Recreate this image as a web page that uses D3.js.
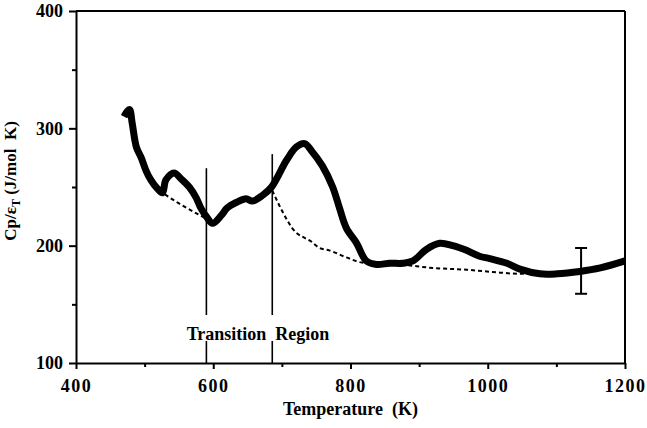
<!DOCTYPE html>
<html>
<head>
<meta charset="utf-8">
<script src="https://cdn.jsdelivr.net/npm/d3@7"></script>
<style>
body { margin: 0; background: #fff; }
svg text { font-family: "Liberation Serif", "Times New Roman", Times, "DejaVu Serif", serif !important; font-weight: bold; fill: #000; }
</style>
</head>
<body>
<div class="graph"></div>
<script>
// measured curve, Cp/eps_T vs T
const temps = [470, 474, 478, 482, 488, 495, 502, 509, 518, 526, 531, 543, 553, 565, 575, 582, 591, 599,
  612, 620, 634, 648, 657, 672, 685, 707, 721, 733, 743, 759, 774, 784, 794, 809, 823, 838, 857, 876,
  891, 911, 930, 949, 969, 988, 1003, 1028, 1047, 1076, 1101, 1134, 1164, 1200];
const cp = [310, 314, 316, 304, 284, 275, 264, 256, 249, 245, 256, 262, 257, 250, 241, 232, 224, 219,
  226, 232, 237, 240, 238, 243, 250, 273, 284, 287, 281, 268, 250, 232, 215, 202, 187, 184, 185, 185,
  187, 197, 202, 200, 196, 191, 189, 185, 180, 176, 176, 178, 181, 187];

// dotted baseline, two visible pieces
const baseTemps1 = [521, 550, 590, 600];
const baseCp1 = [247, 236, 223, 220];
const baseTemps2 = [686, 700, 715, 744, 755, 769, 794, 818, 872, 920, 969, 1018, 1047, 1080];
const baseCp2 = [247, 230, 215, 203, 198, 196, 190, 185.5, 184, 181, 179.5, 177, 176, 176];

// transition region markers
const transT = [590, 686];
const transTop = [266, 278];
const transLabel = "Transition\u00a0\u00a0Region";

// error bar
const errT = 1136;
const errLow = 159;
const errHigh = 198;

const xTicks = [400, 600, 800, 1000, 1200];
const xMinor = [500, 700, 900, 1100];
const yTicks = [100, 200, 300, 400];
const yMinor = [150, 250, 350];

var margin = {top: 11, right: 22, bottom: 65, left: 76},
  width = 647 - margin.left - margin.right,
  height = 428 - margin.top - margin.bottom;

var svg = d3.select(".graph")
  .append("svg")
    .attr("width", 647)
    .attr("height", 428)
  .append("g")
    .attr("transform", "translate(" + margin.left + "," + margin.top + ")");

var x = d3.scaleLinear().domain([400, 1200]).range([0, width]);
var y = d3.scaleLinear().domain([100, 400]).range([height, 0]);

// minor ticks
svg.append("g")
  .attr("transform", "translate(0," + height + ")")
  .call(d3.axisBottom(x).tickValues(xMinor).tickSize(4).tickFormat(""))
  .call(g => g.select(".domain").remove())
  .selectAll("line").attr("stroke-width", 2);
svg.append("g")
  .call(d3.axisLeft(y).tickValues(yMinor).tickSize(4).tickFormat(""))
  .call(g => g.select(".domain").remove())
  .selectAll("line").attr("stroke-width", 2);

// x axis
var xg = svg.append("g")
  .attr("transform", "translate(0," + height + ")")
  .call(d3.axisBottom(x).tickValues(xTicks).tickSize(6).tickSizeOuter(0).tickFormat(d3.format("d")));
xg.select(".domain").attr("stroke-width", 2);
xg.selectAll("line").attr("stroke-width", 2);
xg.selectAll("text")
  .attr("y", 16).attr("dy", "0.71em")
  .style("font-size", "18px")
  .style("letter-spacing", "1.5px");

// y axis
var yg = svg.append("g")
  .call(d3.axisLeft(y).tickValues(yTicks).tickSize(7).tickPadding(6).tickSizeOuter(0));
yg.select(".domain").attr("stroke-width", 2);
yg.selectAll("line").attr("stroke-width", 2);
yg.selectAll("text")
  .style("font-size", "18px");

// frame top and right
svg.append("line").attr("x1", 0).attr("x2", width).attr("y1", 0).attr("y2", 0)
  .attr("stroke", "#000").attr("stroke-width", 2);
svg.append("line").attr("x1", width).attr("x2", width).attr("y1", 0).attr("y2", height)
  .attr("stroke", "#000").attr("stroke-width", 2);

// axis titles
svg.append("text")
  .attr("x", width / 2).attr("y", 415 - margin.top)
  .attr("text-anchor", "middle")
  .style("font-size", "18px")
  .text("Temperature\u00a0\u00a0(K)");

var yl = svg.append("text")
  .attr("transform", "translate(" + (16 - margin.left) + "," + (181 - margin.top) + ") rotate(-90)")
  .attr("text-anchor", "middle")
  .style("font-size", "17px");
yl.append("tspan").text("Cp/\u03b5");
yl.append("tspan").attr("dy", 4).style("font-size", "12px").text("T");
yl.append("tspan").attr("dy", -4).text(" (J/mol\u00a0\u00a0K)");

// transition lines
svg.selectAll(".trans")
  .data(transT)
  .enter()
  .append("line")
    .attr("x1", d => x(d)).attr("x2", d => x(d))
    .attr("y1", (d, i) => y(transTop[i])).attr("y2", height)
    .attr("stroke", "#000").attr("stroke-width", 1.6);

var lab = svg.append("g");
lab.append("rect")
  .attr("x", 100).attr("y", 315 - margin.top)
  .attr("width", 166).attr("height", 26)
  .attr("fill", "#fff");
lab.append("text")
  .attr("x", 258 - margin.left).attr("y", 340 - margin.top)
  .attr("text-anchor", "middle")
  .style("font-size", "18px")
  .text(transLabel);

// dotted baseline
[[baseTemps1, baseCp1], [baseTemps2, baseCp2]].forEach(function(b) {
  svg.append("path")
    .datum(b[0].map((t, i) => [t, b[1][i]]))
    .attr("fill", "none")
    .attr("stroke", "#000")
    .attr("stroke-width", 2)
    .attr("stroke-dasharray", "4,3")
    .attr("d", d3.line()
      .curve(d3.curveMonotoneX)
      .x(d => x(d[0]))
      .y(d => y(d[1])));
});

// measured curve
svg.append("path")
  .datum(temps.map((t, i) => [t, cp[i]]))
  .attr("fill", "none")
  .attr("stroke", "#000")
  .attr("stroke-width", 7)
  .attr("stroke-linejoin", "round")
  .attr("d", d3.line()
    .curve(d3.curveCatmullRom)
    .x(d => x(d[0]))
    .y(d => y(d[1])));

// error bar
var eb = svg.append("g").attr("stroke", "#000").attr("stroke-width", 2);
eb.append("line").attr("x1", x(errT)).attr("x2", x(errT)).attr("y1", y(errLow)).attr("y2", y(errHigh));
eb.append("line").attr("x1", x(errT) - 6).attr("x2", x(errT) + 6).attr("y1", y(errLow)).attr("y2", y(errLow));
eb.append("line").attr("x1", x(errT) - 6).attr("x2", x(errT) + 6).attr("y1", y(errHigh)).attr("y2", y(errHigh));
</script>
</body>
</html>
